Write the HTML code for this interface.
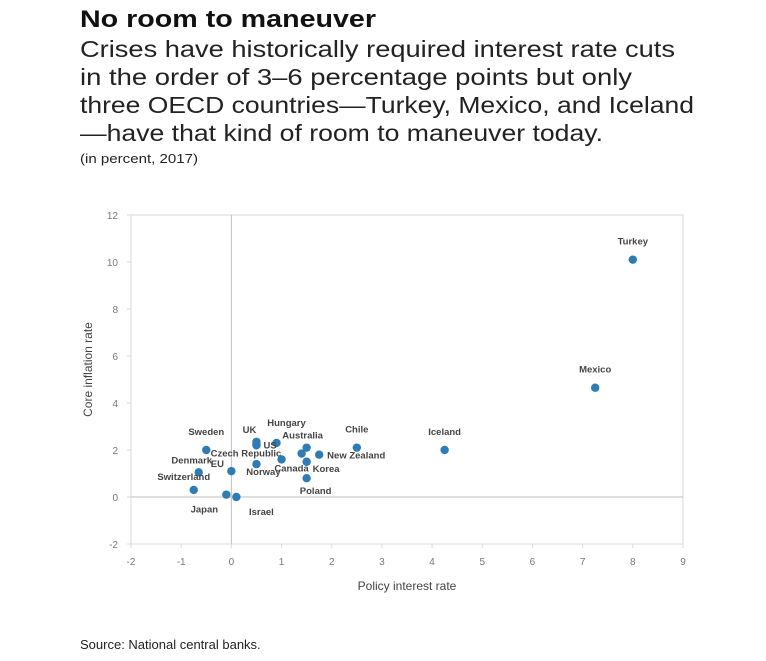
<!DOCTYPE html>
<html><head><meta charset="utf-8"><style>
body{margin:0;background:#fff;}
svg{display:block;font-family:"Liberation Sans",sans-serif;}
</style></head><body>
<svg id="chart" width="766" height="661" viewBox="0 0 766 661">
<text x="80" y="27" font-size="24" font-weight="bold" fill="#111" textLength="296" lengthAdjust="spacingAndGlyphs">No room to maneuver</text>
<g font-size="23" fill="#222">
<text x="80" y="57" textLength="595" lengthAdjust="spacingAndGlyphs">Crises have historically required interest rate cuts</text>
<text x="80" y="85" textLength="552" lengthAdjust="spacingAndGlyphs">in the order of 3–6 percentage points but only</text>
<text x="80" y="113" textLength="614" lengthAdjust="spacingAndGlyphs">three OECD countries—Turkey, Mexico, and Iceland</text>
<text x="80" y="141" textLength="523" lengthAdjust="spacingAndGlyphs">—have that kind of room to maneuver today.</text>
</g>
<text x="80" y="163" font-size="13" fill="#222" textLength="118" lengthAdjust="spacingAndGlyphs">(in percent, 2017)</text>
<text x="80" y="649" font-size="13" fill="#222">Source: National central banks.</text>
<g id="plot"></g>
</svg>
<script>
const names=["Turkey","Mexico","Iceland","Chile","New Zealand","Australia","Korea","Poland","Czech Republic","Canada","Hungary","US","UK","UK2","Norway","EU","Denmark","Sweden","Switzerland","Japan","Israel"];
const xVals=[8,7.25,4.25,2.5,1.75,1.5,1.5,1.5,1.4,1.0,0.9,0.5,0.5,0.5,0.5,0,-0.65,-0.5,-0.75,-0.1,0.1];
const yVals=[10.1,4.65,2.0,2.1,1.8,2.1,1.5,0.8,1.85,1.6,2.3,2.2,2.35,2.25,1.4,1.1,1.05,2.0,0.3,0.1,0.0];
const xTicks=[-2,-1,0,1,2,3,4,5,6,7,8,9];
const yTicks=[-2,0,2,4,6,8,10,12];
// label placement offsets (px): [dx, dy, anchor]
const lab={"Turkey":[0,-15,"middle"],"Mexico":[0,-15,"middle"],"Iceland":[0,-15,"middle"],"Chile":[0,-15,"middle"],
"New Zealand":[8,4,"start"],"Australia":[-4,-9,"middle"],"Korea":[6,10,"start"],"Poland":[9,16,"middle"],
"Czech Republic":[-91,3,"start"],"Canada":[10,12,"middle"],"Hungary":[10,-17,"middle"],"US":[7,3,"start"],
"UK":[-7,-9,"middle"],"UK2":null,"Norway":[7,11,"middle"],"EU":[-14,-4,"middle"],"Denmark":[-7,-9,"middle"],
"Sweden":[0,-15,"middle"],"Switzerland":[-10,-10,"middle"],"Japan":[-22,18,"middle"],"Israel":[25,18,"middle"]};
const x0=-2,x1=9,y0=-2,y1=12,L=131,R=683,T=215,B=544;
const sx=v=>L+(v-x0)/(x1-x0)*(R-L), sy=v=>B-(v-y0)/(y1-y0)*(B-T);
const g=document.getElementById('plot'),NS="http://www.w3.org/2000/svg";
function mk(t,a,p){const e=document.createElementNS(NS,t);for(const k in a)e.setAttribute(k,a[k]);(p||g).appendChild(e);return e;}
const frame=mk('rect',{x:L,y:T,width:R-L,height:B-T,fill:'none',stroke:'#d9d9d9','stroke-width':1});


const vz=mk('line',{x1:sx(0),x2:sx(0),y1:T,y2:B,stroke:'#bfbfbf'});


const hz=mk('line',{x1:L,x2:R,y1:sy(0),y2:sy(0),stroke:'#bfbfbf'});


xTicks.forEach(v=>{const t=mk('text',{x:sx(v),y:B+21,'font-size':10,fill:'#777','text-anchor':'middle'});t.textContent=v;


const tk=mk('line',{x1:sx(v),x2:sx(v),y1:B,y2:B+4,stroke:'#d9d9d9'});

});
yTicks.forEach(v=>{const t=mk('text',{x:L-13,y:sy(v)+4,'font-size':10,fill:'#777','text-anchor':'end'});t.textContent=v;


const tk=mk('line',{x1:L-4,x2:L,y1:sy(v),y2:sy(v),stroke:'#d9d9d9'});

});
const xt=mk('text',{x:(L+R)/2,y:B+46,'font-size':12,fill:'#444','text-anchor':'middle'});xt.textContent='Policy interest rate';


const yt=mk('text',{x:0,y:0,'font-size':12,fill:'#444','text-anchor':'middle',transform:`translate(92,${(T+B)/2-10}) rotate(-90)`});yt.textContent='Core inflation rate';


names.forEach((n,i)=>{const cx=sx(xVals[i]),cy=sy(yVals[i]);
const c=mk('circle',{cx:cx,cy:cy,r:4.2,fill:'#2f7bb5'});


const o=lab[n];if(o){const t=mk('text',{x:cx+o[0],y:cy+o[1],'font-size':9.5,'font-weight':'bold',fill:'#444','text-anchor':o[2]});t.textContent=n;

}});
</script>
</body></html>
